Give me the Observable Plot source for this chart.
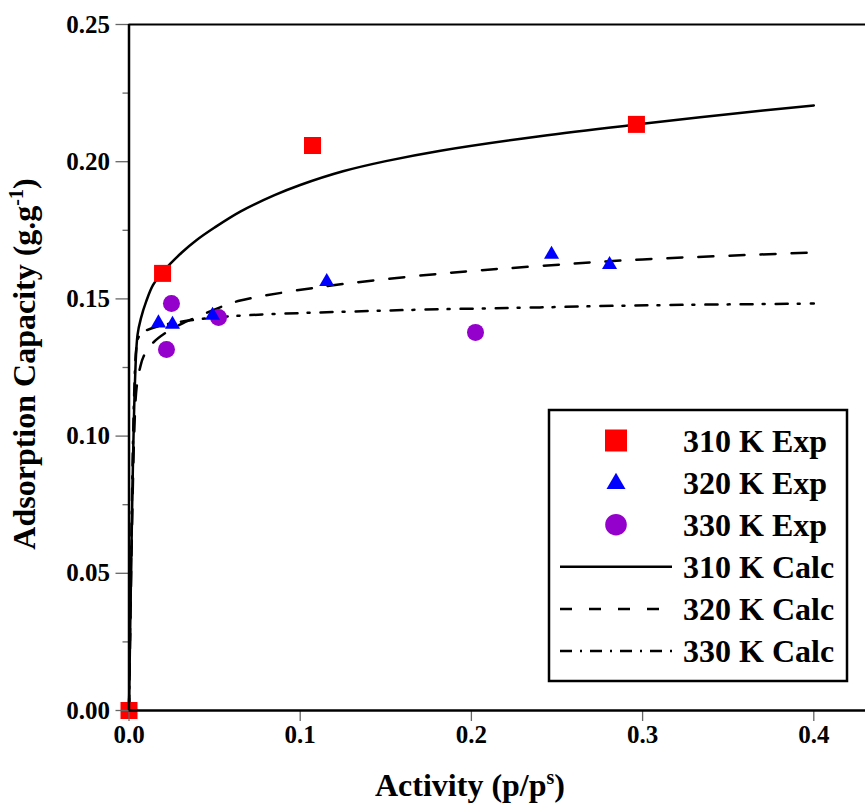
<!DOCTYPE html>
<html><head><meta charset="utf-8">
<script src="https://cdn.jsdelivr.net/npm/d3@7"></script>
<script src="https://cdn.jsdelivr.net/npm/@observablehq/plot@0.6"></script>
<style>
body{margin:0;background:#fff;}
#chart{position:relative;width:865px;height:803px;overflow:hidden;}
</style></head><body><div id="chart"></div>
<script>
// ---- data ----
const exp310X = [0, 0.0196, 0.1072, 0.2964];
const exp310Y = [0, 0.1593, 0.2059, 0.2136];
const exp320X = [0.0172, 0.0254, 0.0488, 0.1155, 0.2468, 0.2807];
const exp320Y = [0.1412, 0.1407, 0.1440, 0.1563, 0.1662, 0.1625];
const exp330X = [0.0219, 0.0248, 0.0523, 0.2024];
const exp330Y = [0.1316, 0.1483, 0.1432, 0.1378];

const calc310X = [0, 0.0035, 0.005, 0.007, 0.010, 0.014, 0.020, 0.031, 0.039, 0.050, 0.065, 0.085, 0.100, 0.125, 0.150, 0.182, 0.240, 0.300, 0.350, 0.400];
const calc310Y = [0, 0.120, 0.137, 0.143, 0.149, 0.155, 0.1600, 0.1670, 0.1712, 0.1760, 0.1818, 0.1878, 0.1915, 0.1965, 0.2002, 0.2040, 0.2093, 0.2138, 0.2173, 0.2205];
const calc320X = [0, 0.003, 0.0045, 0.0065, 0.0085, 0.014, 0.021, 0.031, 0.039, 0.056, 0.065, 0.110, 0.182, 0.240, 0.300, 0.400];
const calc320Y = [0, 0.100, 0.118, 0.125, 0.129, 0.134, 0.1375, 0.141, 0.1432, 0.1476, 0.1494, 0.1542, 0.1592, 0.1620, 0.1644, 0.1669];
const calc330X = [0, 0.003, 0.0045, 0.006, 0.010, 0.020, 0.040, 0.065, 0.153, 0.240, 0.295, 0.400];
const calc330Y = [0, 0.115, 0.133, 0.1365, 0.1385, 0.1405, 0.1425, 0.1439, 0.1458, 0.1469, 0.1476, 0.1483];

const xTicks = [0, 0.1, 0.2, 0.3, 0.4];
const yTicks = [0, 0.05, 0.10, 0.15, 0.20, 0.25];
const yMinor = [0.025, 0.075, 0.125, 0.175, 0.225];
const legendLabels = ["310 K Exp", "320 K Exp", "330 K Exp", "310 K Calc", "320 K Calc", "330 K Calc"];
const xTitle = ["Activity (p/p", "s", ")"];
const yTitle = ["Adsorption Capacity (g.g", "-1", ")"];

const zip = (xs, ys) => xs.map((x, i) => ({x, y: ys[i]}));
const e310 = zip(exp310X, exp310Y), e320 = zip(exp320X, exp320Y), e330 = zip(exp330X, exp330Y);
const c310 = zip(calc310X, calc310Y), c320 = zip(calc320X, calc320Y), c330 = zip(calc330X, calc330Y);

const FONT = "'Liberation Serif', 'Times New Roman', serif";
const RED = "#ff0000", BLUE = "#0000ff", PURPLE = "#9400cc";
const DASH = "15,16", DASHDOT = "12,10,2,11";

const plot = Plot.plot({
  width: 865, height: 803,
  marginLeft: 128.5, marginRight: 0, marginTop: 24, marginBottom: 93,
  x: {domain: [0, 0.4302], label: null},
  y: {domain: [0, 0.25], label: null},
  style: {fontFamily: FONT, fontWeight: "bold", fontSize: "25px", background: "white", overflow: "visible", color: "black"},
  marks: [
    Plot.line(c310, {x: "x", y: "y", curve: "catmull-rom", stroke: "black", strokeWidth: 2.5}),
    Plot.line(c320, {x: "x", y: "y", curve: "catmull-rom", stroke: "black", strokeWidth: 2.5, strokeDasharray: DASH}),
    Plot.line(c330, {x: "x", y: "y", curve: "catmull-rom", stroke: "black", strokeWidth: 2.5, strokeDasharray: DASHDOT}),
    Plot.dot(e330, {x: "x", y: "y", symbol: "circle", r: 8.5, fill: PURPLE, stroke: "none"}),
    Plot.dot(e320, {x: "x", y: "y", symbol: "triangle", r: 5.6, fill: BLUE, stroke: "none"}),
    Plot.dot(e310, {x: "x", y: "y", symbol: "square", r: 9.6, fill: RED, stroke: "none"}),
    Plot.axisX(xTicks, {tickSize: 11, tickPadding: 4, tickFormat: d3.format(".1f"), stroke: "#666", strokeWidth: 1.3, fill: "black", label: null}),
    Plot.axisY(yTicks, {tickSize: 13, tickPadding: 6, tickFormat: d3.format(".2f"), stroke: "#666", strokeWidth: 1.3, fill: "black", label: null}),
    Plot.axisY(yMinor, {tickSize: 6, tickFormat: () => "", stroke: "#666", strokeWidth: 1.3, label: null}),
    Plot.ruleY([0.25], {stroke: "black", strokeWidth: 2}),
    Plot.ruleY([0], {stroke: "black", strokeWidth: 2.5}),
    Plot.ruleX([0], {stroke: "black", strokeWidth: 2.5})
  ]
});
document.getElementById("chart").appendChild(plot);

const svg = d3.select(plot);
svg.selectAll('g[aria-label$="tick label"]').attr("font-size", null)
  .style("font-size", "25px").style("font-weight", "bold").style("font-family", FONT);

// axis titles with superscripts
const xt = svg.append("text").attr("x", 470).attr("y", 796).attr("text-anchor", "middle")
  .style("font-family", FONT).style("font-weight", "bold").style("font-size", "32px").attr("fill", "black");
xt.append("tspan").text(xTitle[0]);
xt.append("tspan").attr("dy", -12).style("font-size", "20px").text(xTitle[1]);
xt.append("tspan").attr("dy", 12).text(xTitle[2]);

const yt = svg.append("text").attr("transform", "translate(35,364) rotate(-90)").attr("text-anchor", "middle")
  .style("font-family", FONT).style("font-weight", "bold").style("font-size", "32px").attr("fill", "black");
yt.append("tspan").text(yTitle[0]);
yt.append("tspan").attr("dy", -12).style("font-size", "20px").text(yTitle[1]);
yt.append("tspan").attr("dy", 12).text(yTitle[2]);

// legend
const lg = svg.append("g");
lg.append("rect").attr("x", 549).attr("y", 410).attr("width", 298).attr("height", 271)
  .attr("fill", "white").attr("stroke", "black").attr("stroke-width", 2.5);
const rowY = i => 440.5 + i * 42.1;
const symX = 616;
lg.append("path").attr("transform", `translate(${symX},${rowY(0)})`).attr("d", d3.symbol(d3.symbolSquare, 484)()).attr("fill", RED);
lg.append("path").attr("transform", `translate(${symX},${rowY(1) + 1})`).attr("d", d3.symbol(d3.symbolTriangle, 156)()).attr("fill", BLUE);
lg.append("circle").attr("cx", symX).attr("cy", rowY(2)).attr("r", 10.8).attr("fill", PURPLE);
const dashes = [null, "12,17", "12,8,2,8"];
dashes.forEach((d, k) => {
  const l = lg.append("line").attr("x1", 560).attr("x2", 672).attr("y1", rowY(3 + k)).attr("y2", rowY(3 + k))
    .attr("stroke", "black").attr("stroke-width", 2.5);
  if (d) l.attr("stroke-dasharray", d);
});
legendLabels.forEach((t, i) => {
  lg.append("text").attr("x", 683).attr("y", rowY(i) + 11).attr("text-anchor", "start").text(t)
    .style("font-family", FONT).style("font-weight", "bold").style("font-size", "32px").attr("fill", "black");
});
</script>
</body></html>
